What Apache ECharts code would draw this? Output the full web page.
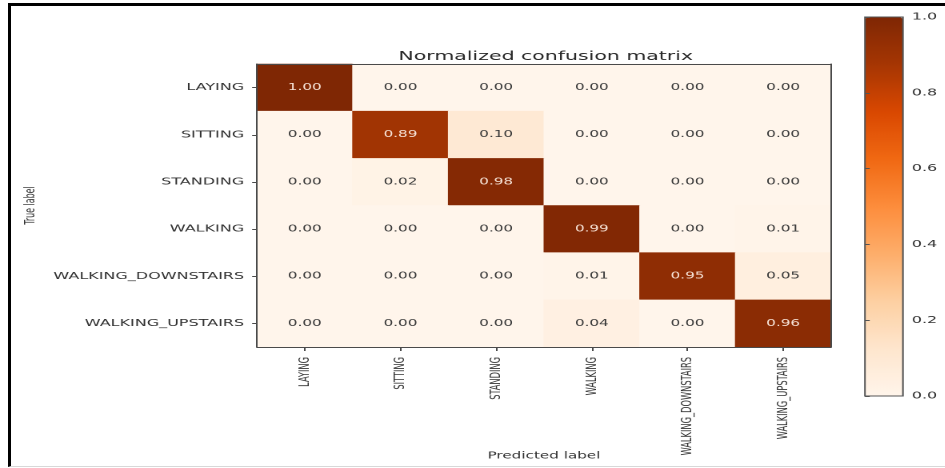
<!DOCTYPE html>
<html>
<head>
<meta charset="utf-8">
<title>Normalized confusion matrix</title>
<script src="https://cdn.jsdelivr.net/npm/echarts@6/dist/echarts.min.js"></script>
<style>
  html, body { margin: 0; padding: 0; background: #fff; }
  #wrap { position: relative; width: 945px; height: 468px; overflow: hidden; }
  /* the original picture is a matplotlib figure stretched sideways */
  #main { position: absolute; left: 0; top: 0; width: 590.625px; height: 468px;
          transform: scaleX(1.6); transform-origin: 0 0; }
  #frame { position: absolute; left: 8px; top: 3px; right: -2px; bottom: 1px;
           border-left: 3px solid #000; border-top: 3px solid #000;
           border-bottom: 1px solid #d8d8d8; pointer-events: none; }
</style>
</head>
<body>
<div id="wrap">
  <div id="main"></div>
  <div id="frame"></div>
</div>
<script type="text/javascript">
// class names (rows = true label, columns = predicted label)
var classes = ['LAYING', 'SITTING', 'STANDING', 'WALKING', 'WALKING_DOWNSTAIRS', 'WALKING_UPSTAIRS'];

var rowLaying     = [1.00, 0.00, 0.00, 0.00, 0.00, 0.00];
var rowSitting    = [0.00, 0.89, 0.10, 0.00, 0.00, 0.00];
var rowStanding   = [0.00, 0.02, 0.98, 0.00, 0.00, 0.00];
var rowWalking    = [0.00, 0.00, 0.00, 0.99, 0.00, 0.01];
var rowDownstairs = [0.00, 0.00, 0.00, 0.01, 0.95, 0.05];
var rowUpstairs   = [0.00, 0.00, 0.00, 0.04, 0.00, 0.96];

var colorbarTicks = [0, 0.2, 0.4, 0.6, 0.8, 1.0];

// matplotlib "Oranges"
var oranges = ['#fff5eb', '#fee6ce', '#fdd0a2', '#fdae6b', '#fd8d3c', '#f16913', '#d94801', '#a63603', '#7f2704'];

var rows = [rowLaying, rowSitting, rowStanding, rowWalking, rowDownstairs, rowUpstairs];
var cells = [];
rows.forEach(function (row, i) {
  row.forEach(function (v, j) {
    cells.push({
      value: [j, i, v],
      label: { color: v > 0.5 ? '#f6e2d6' : '#3a3a3a' }
    });
  });
});

var font = 'DejaVu Sans';
var narrow = '"DejaVu Sans Condensed", "DejaVu Sans"';
var txt = '#333';
var lineCol = '#4a4a4a';

var myChart = echarts.init(document.getElementById('main'), null, { devicePixelRatio: 2 });

var option = {
  animation: false,
  backgroundColor: '#fff',
  title: {
    text: 'Normalized confusion matrix',
    left: 249, top: 50, padding: 0,
    textStyle: { fontFamily: font, fontSize: 12.8, fontWeight: 'normal', color: '#2a2a2a' }
  },
  grid: [
    { left: 160.6, top: 64, width: 358.8, height: 283, containLabel: false, outerBoundsMode: 'none' },
    { left: 540.6, top: 17, width: 23.75, height: 379, show: true, z: 10,
      containLabel: false, outerBoundsMode: 'none',
      backgroundColor: 'transparent', borderColor: '#555', borderWidth: 1 }
  ],
  xAxis: [
    {
      gridIndex: 0, type: 'category', data: classes, position: 'bottom', z: 10,
      axisLine: { show: true, lineStyle: { color: lineCol, width: 1 } },
      axisTick: { show: true, alignWithLabel: true, length: 4, lineStyle: { color: lineCol } },
      axisLabel: { rotate: 90, margin: 10, fontFamily: narrow, fontSize: 9.2, color: txt },
      splitLine: { show: false },
      name: 'Predicted label', nameLocation: 'middle', nameGap: 104, nameMoveOverlap: false,
      nameTextStyle: { fontFamily: font, fontSize: 9.5, color: txt }
    },
    {
      gridIndex: 0, type: 'category', data: classes, position: 'top', z: 10,
      axisLine: { show: true, lineStyle: { color: lineCol, width: 1 } },
      axisTick: { show: false }, axisLabel: { show: false }, splitLine: { show: false }
    },
    { gridIndex: 1, type: 'value', min: 0, max: 1, show: false }
  ],
  yAxis: [
    {
      gridIndex: 0, type: 'category', data: classes, inverse: true, position: 'left', z: 10,
      axisLine: { show: true, lineStyle: { color: lineCol, width: 1 } },
      axisTick: { show: true, alignWithLabel: true, length: 3, lineStyle: { color: lineCol } },
      axisLabel: { margin: 8, fontFamily: font, fontSize: 10, color: txt },
      splitLine: { show: false },
      name: 'True label', nameLocation: 'middle', nameRotate: 90, nameGap: 137, nameMoveOverlap: false,
      nameTextStyle: { fontFamily: narrow, fontSize: 8.8, color: txt }
    },
    {
      gridIndex: 0, type: 'category', data: classes, inverse: true, position: 'right', z: 10,
      axisLine: { show: true, lineStyle: { color: lineCol, width: 1 } },
      axisTick: { show: false }, axisLabel: { show: false }, splitLine: { show: false }
    },
    {
      gridIndex: 1, type: 'value', position: 'right', min: 0, max: 1, interval: 0.2, z: 10,
      axisLine: { show: false },
      axisTick: { show: true, length: 3, lineStyle: { color: '#555' } },
      axisLabel: {
        margin: 5.5, fontFamily: font, fontSize: 10, color: txt,
        formatter: function (v) { return v.toFixed(1); },
        customValues: colorbarTicks
      },
      splitLine: { show: false }
    }
  ],
  visualMap: {
    type: 'continuous', seriesIndex: 0, min: 0, max: 1,
    calculable: false, orient: 'vertical',
    left: 540.6, top: 17, itemWidth: 23.75, itemHeight: 379, padding: 0,
    hoverLink: false,
    inRange: { color: oranges }
  },
  series: [{
    type: 'heatmap', xAxisIndex: 0, yAxisIndex: 0,
    data: cells,
    label: {
      show: true, fontFamily: font, fontSize: 9.5,
      formatter: function (p) { return p.value[2].toFixed(2); }
    },
    emphasis: { disabled: true }
  }]
};

myChart.setOption(option);
</script>
</body>
</html>
